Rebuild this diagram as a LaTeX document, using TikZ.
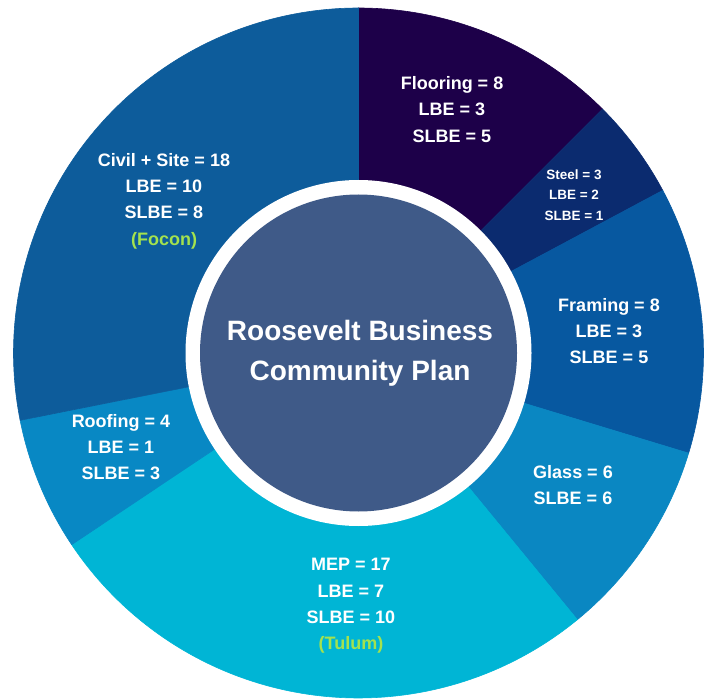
\documentclass[tikz,border=0pt]{standalone}
\usepackage{fontspec}
\setmainfont{Liberation Sans}
\definecolor{cFloor}{HTML}{1D0049}
\definecolor{cSteel}{HTML}{0B2B6F}
\definecolor{cFrame}{HTML}{0758A0}
\definecolor{cGlass}{HTML}{0A87C2}
\definecolor{cMEP}{HTML}{00B5D5}
\definecolor{cRoof}{HTML}{0888C4}
\definecolor{cCivil}{HTML}{0D5C9B}
\definecolor{cCore}{HTML}{3F5A88}
\definecolor{cGreen}{HTML}{A4E24E}
\tikzset{
  lbl/.style={text=white, align=center, font=\bfseries\fontsize{18}{26.3}\selectfont, inner sep=0pt},
  smalllbl/.style={text=white, align=center, font=\bfseries\fontsize{13.5}{20.5}\selectfont, inner sep=0pt},
  titlelbl/.style={text=white, align=center, font=\bfseries\fontsize{28}{40}\selectfont, inner sep=0pt}
}
\newcommand{\piewedge}[3]{\fill[#1, draw=#1, line width=0.6pt] (C) -- ++(#2:345) arc[start angle=#2, end angle=#3, radius=345] -- cycle;}
\begin{document}
\begin{tikzpicture}[x=1pt,y=1pt]
\useasboundingbox (0,0) rectangle (709,-700);
\coordinate (C) at (358.5,-353);
\piewedge{cFloor}{90}{45}
\piewedge{cSteel}{45}{28.125}
\piewedge{cFrame}{28.125}{-16.875}
\piewedge{cGlass}{-16.875}{-50.625}
\piewedge{cMEP}{-50.625}{-146.25}
\piewedge{cRoof}{-146.25}{-168.75}
\piewedge{cCivil}{191.25}{90}
\fill[white] (C) circle[radius=173];
\fill[cCore] (C) circle[radius=158.5];
\node[titlelbl] (title) at (360,-353) {Roosevelt Business\\Community Plan};
\node[lbl] (floor) at (452,-109.5) {Flooring = 8\\LBE = 3\\SLBE = 5};
\node[smalllbl] (steel) at (574,-195) {Steel = 3\\LBE = 2\\SLBE = 1};
\node[lbl] (frame) at (609,-331) {Framing = 8\\LBE = 3\\SLBE = 5};
\node[lbl] (glass) at (573,-485) {Glass = 6\\SLBE = 6};
\node[lbl] (mep) at (351,-606) {MEP = 17\\LBE = 7\\SLBE = 10\\\textcolor{cGreen}{(Tulum)}};
\node[lbl] (roof) at (121,-447) {Roofing = 4\\LBE = 1\\SLBE = 3};
\node[lbl] (civil) at (164,-201) {Civil + Site = 18\\LBE = 10\\SLBE = 8\\\textcolor{cGreen}{(Focon)}};
\end{tikzpicture}
\end{document}
